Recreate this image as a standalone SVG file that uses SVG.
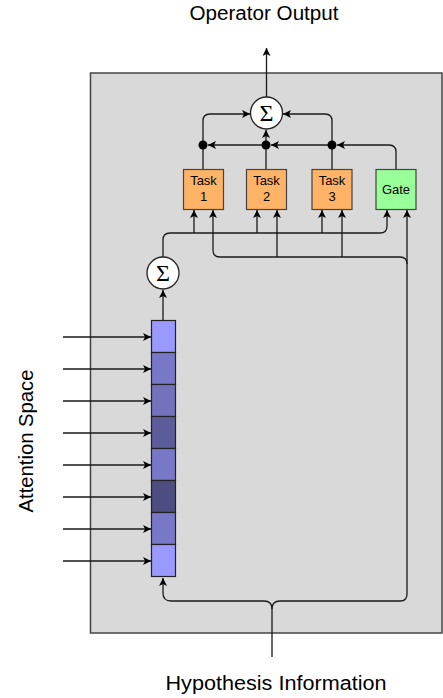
<svg xmlns="http://www.w3.org/2000/svg" width="443" height="698" viewBox="0 0 443 698">
<style>
.lbl{font-family:"Liberation Sans",Arial,sans-serif;fill:#000}
.big{font-size:20px;text-anchor:middle}
.box{font-size:13px;text-anchor:middle}
.sig{font-family:"Liberation Serif","Times New Roman",serif;font-size:24px;text-anchor:middle;fill:#000}
.ln{fill:none;stroke:#1a1a1a;stroke-width:1.3}
.task{fill:#ffb366;stroke:#444;stroke-width:1.2}
.gate{fill:#99ff99;stroke:#444;stroke-width:1.2}
.cell{stroke:#222;stroke-width:1.2}
</style>
<defs>
<marker id="ah" markerUnits="userSpaceOnUse" markerWidth="10" markerHeight="10" refX="8" refY="4" orient="auto">
<path d="M0,0 L8,4 L0,8 L2,4 z" fill="#000"/>
</marker>
</defs>
<rect id="frame" x="90.5" y="73" width="351.5" height="560" fill="#d9d9d9" stroke="#444" stroke-width="1.5"/>
<g id="connectors">
<path class="ln" d="M266.5,97 V48" marker-end="url(#ah)"/>
<path class="ln" d="M203,169 V121 Q203,114 210,114 H250" marker-end="url(#ah)"/>
<path class="ln" d="M332,169 V121 Q332,114 325,114 H283" marker-end="url(#ah)"/>
<path class="ln" d="M266,169 V130" marker-end="url(#ah)"/>
<path class="ln" d="M396,169 V152 Q396,145 389,145 H337" marker-end="url(#ah)"/>
<path class="ln" d="M332,145 H271" marker-end="url(#ah)"/>
<path class="ln" d="M266,145 H208" marker-end="url(#ah)"/>
<path class="ln" d="M163,257 V240 Q163,233 170,233 H380 Q387,233 387,226 V210" marker-end="url(#ah)"/>
<path class="ln" d="M194,233 V210" marker-end="url(#ah)"/>
<path class="ln" d="M257,233 V210" marker-end="url(#ah)"/>
<path class="ln" d="M322,233 V210" marker-end="url(#ah)"/>
<path class="ln" d="M407,264 Q407,257 400,257 H220 Q213,257 213,250 V210" marker-end="url(#ah)"/>
<path class="ln" d="M277,257 V210" marker-end="url(#ah)"/>
<path class="ln" d="M342,257 V210" marker-end="url(#ah)"/>
<path class="ln" d="M163,321 V290" marker-end="url(#ah)"/>
<path class="ln" d="M272,657 V609 Q272,601 264,601 H171 Q163,601 163,593 V578" marker-end="url(#ah)"/>
<path class="ln" d="M272,609 Q272,601 280,601 H400 Q407,601 407,594 V210" marker-end="url(#ah)"/>
<path class="ln" d="M63,337 H151" marker-end="url(#ah)"/>
<path class="ln" d="M63,369 H151" marker-end="url(#ah)"/>
<path class="ln" d="M63,401 H151" marker-end="url(#ah)"/>
<path class="ln" d="M63,433 H151" marker-end="url(#ah)"/>
<path class="ln" d="M63,465 H151" marker-end="url(#ah)"/>
<path class="ln" d="M63,497 H151" marker-end="url(#ah)"/>
<path class="ln" d="M63,529 H151" marker-end="url(#ah)"/>
<path class="ln" d="M63,561 H151" marker-end="url(#ah)"/>
<circle cx="203" cy="145" r="4.5" fill="#000"/>
<circle cx="266" cy="145" r="4.5" fill="#000"/>
<circle cx="332" cy="145" r="4.5" fill="#000"/>
</g>
<g id="sum-top">
<circle cx="266.5" cy="113" r="16" fill="#fff" stroke="#222" stroke-width="1.3"/>
<text class="sig" x="266.5" y="121">Σ</text>
</g>
<g id="sum-left">
<circle cx="163" cy="273" r="16" fill="#fff" stroke="#222" stroke-width="1.3"/>
<text class="sig" x="163" y="281">Σ</text>
</g>
<g id="task1">
<rect class="task" x="183.5" y="169.5" width="40" height="40"/>
<text class="lbl box" x="203.5" y="185">Task</text>
<text class="lbl box" x="203.5" y="201">1</text>
</g>
<g id="task2">
<rect class="task" x="246.5" y="169.5" width="40" height="40"/>
<text class="lbl box" x="266.5" y="185">Task</text>
<text class="lbl box" x="266.5" y="201">2</text>
</g>
<g id="task3">
<rect class="task" x="312" y="169.5" width="40" height="40"/>
<text class="lbl box" x="332" y="185">Task</text>
<text class="lbl box" x="332" y="201">3</text>
</g>
<g id="gate">
<rect class="gate" x="376" y="169.5" width="40" height="40"/>
<text class="lbl box" x="396" y="193.5">Gate</text>
</g>
<g id="attention-vector">
<rect class="cell" x="151.5" y="320.5" width="24" height="32" fill="#9999ff"/>
<rect class="cell" x="151.5" y="352.5" width="24" height="32" fill="#7878c8"/>
<rect class="cell" x="151.5" y="384.5" width="24" height="32" fill="#7272bd"/>
<rect class="cell" x="151.5" y="416.5" width="24" height="32" fill="#5c5c9a"/>
<rect class="cell" x="151.5" y="448.5" width="24" height="32" fill="#7878c8"/>
<rect class="cell" x="151.5" y="480.5" width="24" height="32" fill="#4d4d82"/>
<rect class="cell" x="151.5" y="512.5" width="24" height="32" fill="#7878c8"/>
<rect class="cell" x="151.5" y="544.5" width="24" height="32" fill="#9999ff"/>
</g>
<text class="lbl big" x="264" y="20" textLength="149" lengthAdjust="spacingAndGlyphs">Operator Output</text>
<text class="lbl big" x="276" y="690" textLength="221" lengthAdjust="spacingAndGlyphs">Hypothesis Information</text>
<text class="lbl big" transform="translate(33,441) rotate(-90)" x="0" y="0" textLength="143" lengthAdjust="spacingAndGlyphs">Attention Space</text>
</svg>
